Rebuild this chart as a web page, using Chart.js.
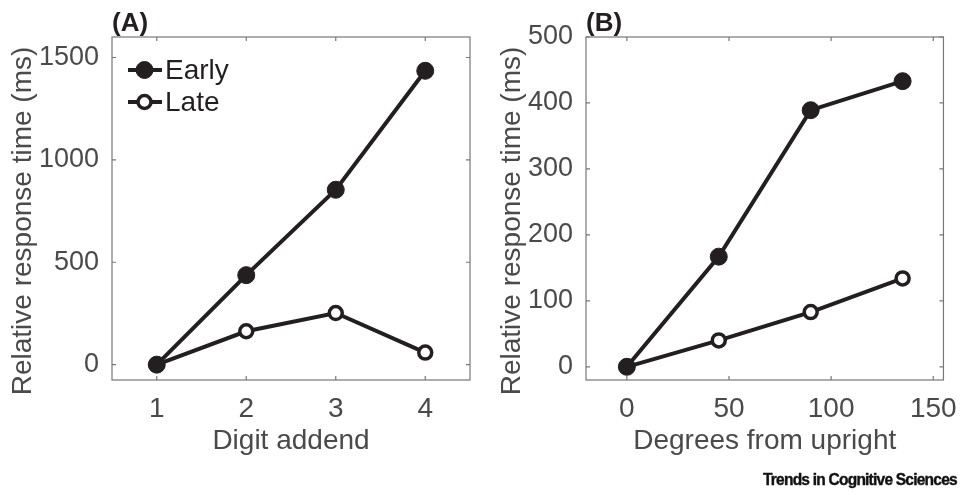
<!DOCTYPE html>
<html>
<head>
<meta charset="utf-8">
<script src="https://cdn.jsdelivr.net/npm/chart.js@4"></script>
<style>
  body { margin: 0; background: #fff; width: 961px; height: 493px; position: relative; overflow: hidden; }
  .panel { position: absolute; top: 0; height: 493px; }
  #panelA { left: 0; width: 480px; }
  #panelB { left: 480px; width: 481px; }
  .credit { position: absolute; right: 4px; top: 471px; font: 900 16px "Liberation Sans", Arial, sans-serif; letter-spacing: -0.8px; color: #111; transform: scaleX(0.97); transform-origin: right center; white-space: nowrap; -webkit-text-stroke: 0.4px #111; }
</style>
</head>
<body>
<div class="panel" id="panelA"><canvas id="chartA"></canvas></div>
<div class="panel" id="panelB"><canvas id="chartB"></canvas></div>
<div class="credit">Trends in Cognitive Sciences</div>
<script>
// panel A: digit addend
const digitAddend = [1, 2, 3, 4];
const earlyA = [0, 437, 854, 1435];
const lateA = [0, 163, 252, 59];
const xTicksA = [1, 2, 3, 4];
const yTicksA = [0, 500, 1000, 1500];

// panel B: degrees from upright
const degrees = [0, 45, 90, 135];
const earlyB = [0, 167, 389, 433];
const lateB = [0, 40, 83, 134];
const xTicksB = [0, 50, 100, 150];
const yTicksB = [0, 100, 200, 300, 400, 500];

const yTitle = 'Relative response time (ms)';
const ink = '#231f20';
const grey = '#4a4a4a';
const font = '"Liberation Sans", Arial, sans-serif';

// MATLAB-like box with inward ticks, y title, panel letter and legend
const boxPlugin = {
    id: 'box',
    afterDraw(chart, args, opts) {
        const ctx = chart.ctx;
        const a = chart.chartArea;
        const xs = chart.scales.x, ys = chart.scales.y;
        ctx.save();
        ctx.strokeStyle = '#777';
        ctx.lineWidth = 1.2;
        ctx.strokeRect(a.left, a.top, a.right - a.left, a.bottom - a.top);
        ctx.beginPath();
        xs.ticks.forEach(t => {
            const px = xs.getPixelForValue(t.value);
            ctx.moveTo(px, a.bottom); ctx.lineTo(px, a.bottom - 4);
            ctx.moveTo(px, a.top); ctx.lineTo(px, a.top + 4);
        });
        ys.ticks.forEach(t => {
            const py = ys.getPixelForValue(t.value);
            ctx.moveTo(a.left, py); ctx.lineTo(a.left + 4, py);
            ctx.moveTo(a.right, py); ctx.lineTo(a.right - 4, py);
        });
        ctx.stroke();

        // rotated y title, centred a little below the axis middle like the original
        ctx.save();
        ctx.translate(opts.titleX, 221);
        ctx.rotate(-Math.PI / 2);
        ctx.font = '28px ' + font;
        ctx.fillStyle = grey;
        ctx.textAlign = 'center';
        ctx.textBaseline = 'alphabetic';
        ctx.fillText(yTitle, 0, 0);
        ctx.restore();

        ctx.fillStyle = ink;
        ctx.font = 'bold 26px ' + font;
        ctx.textBaseline = 'alphabetic';
        ctx.fillText(opts.letter, a.left, 31);

        if (opts.legend) {
            ctx.font = '28px ' + font;
            ctx.textBaseline = 'middle';
            chart.data.datasets.forEach((ds, i) => {
                const y = 70 + i * 32;
                ctx.strokeStyle = ink;
                ctx.lineWidth = 4;
                ctx.beginPath();
                ctx.moveTo(128, y); ctx.lineTo(162, y);
                ctx.stroke();
                ctx.beginPath();
                ctx.arc(144.5, y, ds.pointRadius, 0, Math.PI * 2);
                ctx.fillStyle = ds.pointBackgroundColor;
                ctx.fill();
                ctx.lineWidth = ds.pointBorderWidth;
                ctx.stroke();
                ctx.fillStyle = ink;
                ctx.fillText(ds.label, 165, y + 1);
            });
        }
        ctx.restore();
    }
};

function makeChart(id, xs, early, late, xr, yr, xTicks, yTicks, xTitle, letter, legend, titleX, chartLeft, padRight) {
    const ctx = document.getElementById(id).getContext('2d');
    return new Chart(ctx, {
        type: 'line',
        data: {
            datasets: [{
                label: 'Early',
                data: xs.map((x, i) => ({ x: x, y: early[i] })),
                borderColor: ink,
                borderWidth: 4,
                pointRadius: 8.5,
                pointBackgroundColor: ink,
                pointBorderColor: ink,
                pointBorderWidth: 1
            }, {
                label: 'Late',
                data: xs.map((x, i) => ({ x: x, y: late[i] })),
                borderColor: ink,
                borderWidth: 4,
                pointRadius: 6.5,
                pointBackgroundColor: '#fff',
                pointBorderColor: ink,
                pointBorderWidth: 3.5
            }]
        },
        options: {
            responsive: true,
            maintainAspectRatio: false,
            animation: false,
            layout: { padding: { top: 37, right: padRight, left: 0, bottom: 0 } },
            plugins: {
                legend: { display: false },
                tooltip: { enabled: false },
                box: { letter: letter, legend: legend, titleX: titleX }
            },
            scales: {
                x: {
                    type: 'linear',
                    min: xr[0], max: xr[1],
                    afterBuildTicks: s => { s.ticks = xTicks.map(v => ({ value: v })); },
                    afterFit: s => { s.height = 113; },
                    grid: { display: false },
                    border: { display: false },
                    ticks: { color: grey, font: { size: 28, family: font }, padding: 4, maxRotation: 0, callback: v => String(v) },
                    title: { display: true, text: xTitle, color: grey, font: { size: 28, family: font }, padding: { top: 0, bottom: 35 } }
                },
                y: {
                    min: yr[0], max: yr[1],
                    afterBuildTicks: s => { s.ticks = yTicks.map(v => ({ value: v })); },
                    afterFit: s => { s.width = chartLeft; },
                    grid: { display: false },
                    border: { display: false },
                    ticks: { color: grey, font: { size: 27, family: font }, padding: 5, callback: v => String(v) },
                    title: { display: false }
                }
            }
        },
        plugins: [boxPlugin]
    });
}

makeChart('chartA', digitAddend, earlyA, lateA, [0.5, 4.5], [-75, 1600], xTicksA, yTicksA, 'Digit addend', '(A)', true, 31, 112, 9);
makeChart('chartB', degrees, earlyB, lateB, [-20, 155], [-20, 500], xTicksB, yTicksB, 'Degrees from upright', '(B)', false, 40, 106, 14);
</script>
</body>
</html>
